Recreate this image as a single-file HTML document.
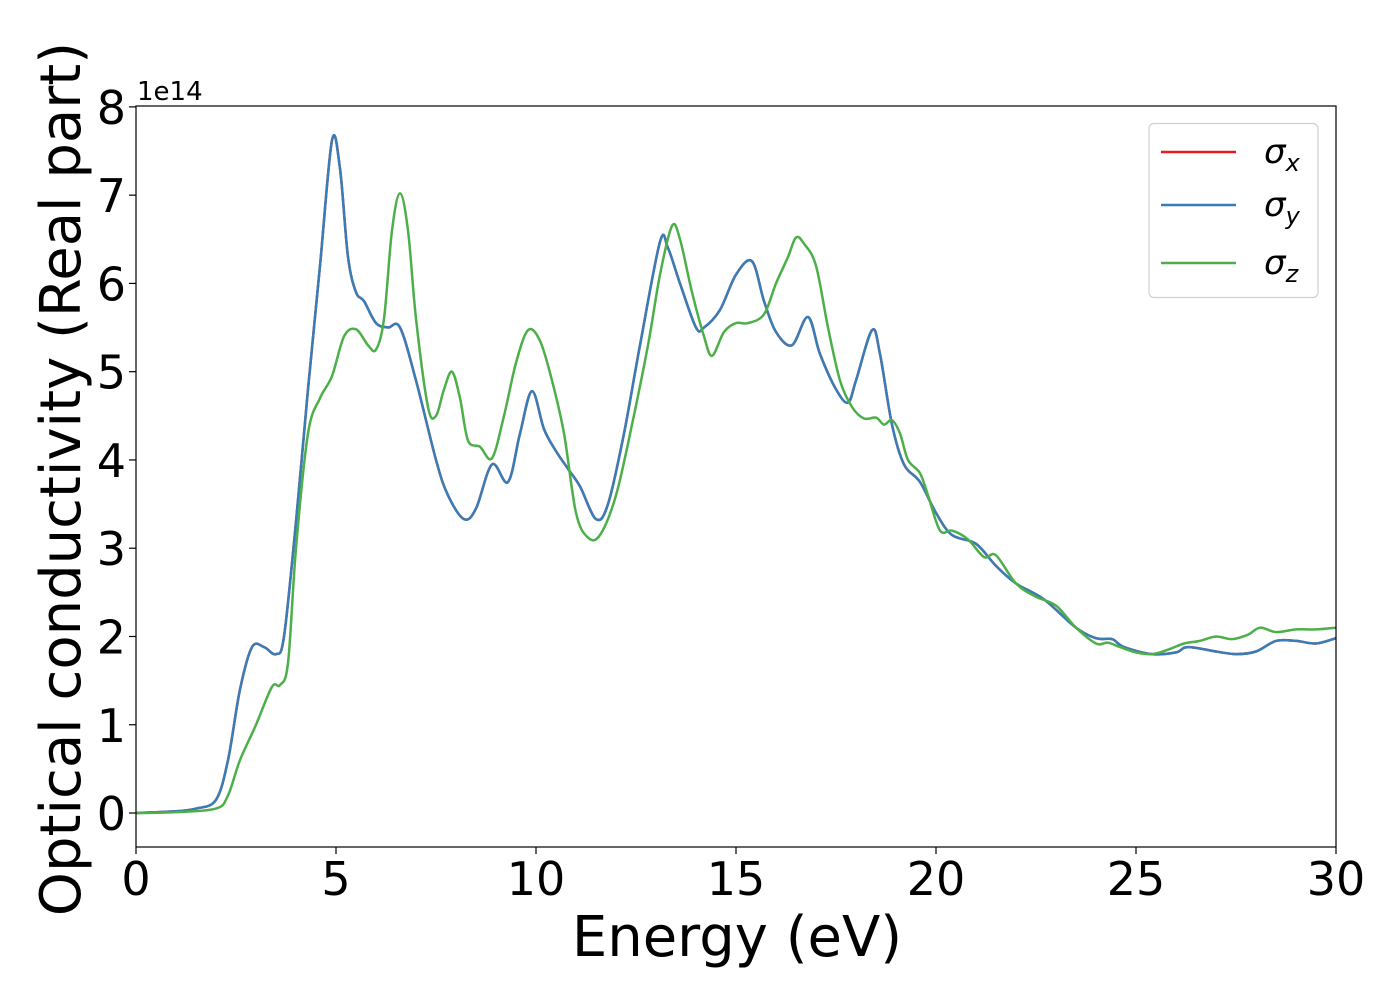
<!DOCTYPE html>
<html><head><meta charset="utf-8"><style>
body{margin:0;background:#fff}
svg{display:block;font-family:"DejaVu Sans","Liberation Sans",sans-serif}
</style></head><body>
<svg id="chart" width="1400" height="1000" viewBox="0 0 1400 1000">
<rect width="1400" height="1000" fill="#fff"/>
<g id="marks"></g>
<g id="axes"></g>
<text x="137" y="100" font-size="26">1e14</text>
<text x="737" y="956" font-size="56" text-anchor="middle">Energy (eV)</text>
<text transform="translate(80,479) rotate(-90)" font-size="56" text-anchor="middle">Optical conductivity (Real part)</text>
<g>
<rect x="1149" y="123.5" width="169" height="174" rx="5" fill="#fff" stroke="#d0d0d0" stroke-width="1.2"/>
<line x1="1161" y1="152" x2="1236" y2="152" stroke="#e41a1c" stroke-width="2.5"/>
<line x1="1161" y1="205" x2="1236" y2="205" stroke="#377eb8" stroke-width="2.5"/>
<line x1="1161" y1="263" x2="1236" y2="263" stroke="#4daf4a" stroke-width="2.5"/>
<text x="1264" y="163" font-size="34" font-style="italic">σ<tspan font-size="24" dy="8">x</tspan></text>
<text x="1264" y="216" font-size="34" font-style="italic">σ<tspan font-size="24" dy="8">y</tspan></text>
<text x="1264" y="274" font-size="34" font-style="italic">σ<tspan font-size="24" dy="8">z</tspan></text>
</g>
</svg>
<script>
const xTicks=[0,5,10,15,20,25,30];
const yTicks=[0,1,2,3,4,5,6,7,8];
const exE=[0,1,1.5,2,2.3,2.6,2.9,3.2,3.5,3.7,4,4.3,4.6,4.9,5.1,5.3,5.5,5.7,6,6.3,6.6,7,7.5,7.8,8.2,8.5,8.9,9.3,9.6,9.9,10.2,10.5,10.8,11.1,11.5,11.8,12.2,12.6,13.1,13.3,13.6,14,14.2,14.6,15,15.4,15.7,16,16.4,16.8,17.1,17.5,17.8,18,18.4,18.6,18.9,19.2,19.6,20,20.4,21,21.5,22,22.7,23.5,24,24.4,24.7,25.4,26,26.3,27,27.5,28,28.5,29,29.5,30];
const sigmaX=[0,0.02,0.05,0.15,0.6,1.4,1.88,1.88,1.8,2.0,3.3,4.8,6.2,7.62,7.3,6.3,5.9,5.8,5.55,5.5,5.5,4.9,4.0,3.6,3.33,3.45,3.95,3.75,4.3,4.78,4.35,4.1,3.9,3.7,3.33,3.5,4.3,5.3,6.47,6.4,6.0,5.5,5.5,5.7,6.1,6.25,5.8,5.45,5.3,5.62,5.2,4.8,4.65,4.9,5.47,5.2,4.4,3.95,3.75,3.4,3.15,3.05,2.8,2.6,2.42,2.1,1.98,1.97,1.88,1.8,1.82,1.88,1.83,1.8,1.83,1.95,1.95,1.92,1.98];
const sigmaY=sigmaX.slice();
const ezE=[0,1,2,2.3,2.6,3,3.4,3.6,3.8,4,4.3,4.6,4.9,5.2,5.5,5.8,6,6.2,6.4,6.6,6.8,7,7.3,7.5,7.7,7.9,8.1,8.3,8.6,8.9,9.2,9.5,9.8,10.1,10.4,10.7,11,11.3,11.6,12,12.4,12.8,13.1,13.4,13.6,13.9,14.2,14.4,14.7,15,15.3,15.7,16,16.3,16.5,16.7,17,17.3,17.6,17.9,18.2,18.5,18.7,18.9,19.1,19.3,19.6,19.8,20.1,20.4,20.8,21.2,21.5,22,22.5,23,23.5,24,24.3,24.6,25,25.4,25.8,26.2,26.6,27,27.4,27.8,28.1,28.5,29,29.5,30];
const sigmaZ=[0,0.01,0.05,0.2,0.6,1.0,1.43,1.45,1.7,3.0,4.3,4.7,4.95,5.4,5.48,5.3,5.25,5.6,6.6,7.02,6.6,5.6,4.6,4.5,4.8,5.0,4.7,4.22,4.15,4.02,4.5,5.1,5.47,5.35,4.9,4.3,3.4,3.12,3.15,3.6,4.4,5.3,6.1,6.65,6.5,5.9,5.4,5.18,5.45,5.55,5.55,5.65,6.0,6.3,6.52,6.45,6.2,5.5,4.9,4.6,4.47,4.48,4.4,4.45,4.3,4.0,3.85,3.6,3.2,3.2,3.1,2.9,2.92,2.6,2.45,2.35,2.1,1.92,1.93,1.88,1.82,1.8,1.85,1.92,1.95,2.0,1.97,2.02,2.1,2.05,2.08,2.08,2.1];

const X0=136,X1=1336,Y0=847,Y1=106;
const xMin=0,xMax=30,yMin=-0.385,yMax=8.01;
const sx=v=>X0+(v-xMin)/(xMax-xMin)*(X1-X0);
const sy=v=>Y0-(v-yMin)/(yMax-yMin)*(Y0-Y1);
const NS="http://www.w3.org/2000/svg";
function mk(t,a){const e=document.createElementNS(NS,t);for(const k in a)e.setAttribute(k,a[k]);return e;}
function pathD(xs,ys){
  const p=xs.map((x,i)=>[sx(x),sy(ys[i])]);
  let d="M"+p[0][0].toFixed(1)+","+p[0][1].toFixed(1);
  for(let i=0;i<p.length-1;i++){
    const a=p[Math.max(0,i-1)],b=p[i],c=p[i+1],e=p[Math.min(p.length-1,i+2)];
    const c1=[b[0]+(c[0]-a[0])/6,b[1]+(c[1]-a[1])/6],c2=[c[0]-(e[0]-b[0])/6,c[1]-(e[1]-b[1])/6];
    d+="C"+c1.map(v=>v.toFixed(1))+" "+c2.map(v=>v.toFixed(1))+" "+c[0].toFixed(1)+","+c[1].toFixed(1);
  }
  return d;
}
const marks=document.getElementById('marks');
const clip=mk('clipPath',{id:'cp'});clip.appendChild(mk('rect',{x:X0,y:Y1,width:X1-X0,height:Y0-Y1}));
document.getElementById('chart').prepend(clip);
marks.setAttribute('clip-path','url(#cp)');
[[exE,sigmaX,'#e41a1c','series-sigma-x'],[exE,sigmaY,'#377eb8','series-sigma-y'],[ezE,sigmaZ,'#4daf4a','series-sigma-z']].forEach(s=>{
  const el=mk('path',{d:pathD(s[0],s[1]),fill:'none',stroke:s[2],'stroke-width':2.5,'stroke-linejoin':'round'});
  
  
  marks.appendChild(el);
});
const axes=document.getElementById('axes');
const frame=mk('rect',{x:X0,y:Y1,width:X1-X0,height:Y0-Y1,fill:'none',stroke:'#000','stroke-width':1.2});


axes.appendChild(frame);
xTicks.forEach(t=>{
  const g=mk('g',{});
  
  
  g.appendChild(mk('line',{x1:sx(t),x2:sx(t),y1:Y0,y2:Y0+7,stroke:'#000','stroke-width':1.2}));
  const tx=mk('text',{x:sx(t),y:Y0+48,'font-size':46,'text-anchor':'middle'});tx.textContent=t;g.appendChild(tx);
  axes.appendChild(g);
});
yTicks.forEach(t=>{
  const g=mk('g',{});
  
  
  g.appendChild(mk('line',{x1:X0-7,x2:X0,y1:sy(t),y2:sy(t),stroke:'#000','stroke-width':1.2}));
  const tx=mk('text',{x:X0-10,y:sy(t)+17,'font-size':46,'text-anchor':'end'});tx.textContent=t;g.appendChild(tx);
  axes.appendChild(g);
});
</script>
</body></html>
